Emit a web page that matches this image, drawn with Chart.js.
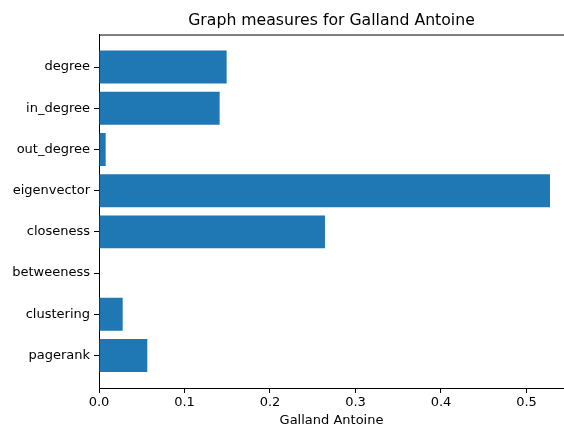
<!DOCTYPE html>
<html>
<head>
<meta charset="utf-8">
<script src="https://cdn.jsdelivr.net/npm/chart.js@4.4.1/dist/chart.umd.min.js"></script>
<style>
  html, body { margin: 0; padding: 0; background: #fff; }
  #wrap { width: 564px; height: 427px; }
</style>
</head>
<body>
<div id="wrap"><canvas id="measuresChart"></canvas></div>
<script>
// values
const measures = ['degree', 'in_degree', 'out_degree', 'eigenvector', 'closeness', 'betweeness', 'clustering', 'pagerank'];
const scores = [0.1493, 0.1411, 0.0078, 0.5275, 0.2643, 0.0, 0.0277, 0.0565];
const xTicks = [0.0, 0.1, 0.2, 0.3, 0.4, 0.5];

const FONT = 'DejaVu Sans';

// matplotlib draws a top spine too
const topSpine = {
    id: 'topSpine',
    afterDraw(chart) {
        const {ctx, chartArea} = chart;
        ctx.save();
        ctx.strokeStyle = '#000';
        ctx.lineWidth = 1;
        ctx.beginPath();
        ctx.moveTo(chartArea.left, chartArea.top + 0.5);
        ctx.lineTo(chartArea.right, chartArea.top + 0.5);
        ctx.stroke();
        ctx.restore();
    }
};

const ctx = document.getElementById('measuresChart').getContext('2d');
new Chart(ctx, {
    type: 'bar',
    data: {
        datasets: [{
            label: 'Galland Antoine',
            data: scores.map((v, i) => ({x: v, y: i})),
            backgroundColor: '#1f77b4',
            borderWidth: 0,
            barPercentage: 0.8,
            categoryPercentage: 1.0
        }]
    },
    plugins: [topSpine],
    options: {
        indexAxis: 'y',
        responsive: true,
        maintainAspectRatio: false,
        animation: false,
        layout: { padding: 0 },
        plugins: {
            legend: { display: false },
            tooltip: { enabled: false },
            title: {
                display: true,
                fullSize: false,
                text: 'Graph measures for Galland Antoine',
                color: '#000',
                font: { family: FONT, size: 15.7, weight: 'normal' },
                padding: { top: 11.6, bottom: 4.1 }
            }
        },
        scales: {
            x: {
                type: 'linear',
                min: 0,
                max: 0.5439,
                afterFit: (scale) => { scale.height = 39; },
                afterBuildTicks: (axis) => { axis.ticks = xTicks.map(v => ({value: v})); },
                ticks: {
                    includeBounds: false,
                    color: '#000',
                    font: { family: FONT, size: 13 },
                    padding: 2,
                    callback: (value) => value.toFixed(1)
                },
                grid: {
                    drawOnChartArea: false,
                    tickLength: 5,
                    color: '#000'
                },
                border: { color: '#000', width: 1 },
                title: {
                    display: true,
                    text: 'Galland Antoine',
                    color: '#000',
                    font: { family: FONT, size: 13, lineHeight: 1 },
                    padding: { top: 0, bottom: 0 }
                }
            },
            y: {
                type: 'linear',
                reverse: true,
                offset: false,
                min: -0.79,
                max: 7.79,
                afterFit: (scale) => { scale.width = 99; },
                afterBuildTicks: (axis) => { axis.ticks = measures.map((m, i) => ({value: i})); },
                ticks: {
                    includeBounds: false,
                    color: '#000',
                    font: { family: FONT, size: 13 },
                    padding: 4,
                    callback: (value) => measures[value]
                },
                grid: {
                    offset: false,
                    drawOnChartArea: false,
                    tickLength: 5,
                    color: '#000'
                },
                border: { color: '#000', width: 1 }
            }
        }
    }
});
</script>
</body>
</html>
